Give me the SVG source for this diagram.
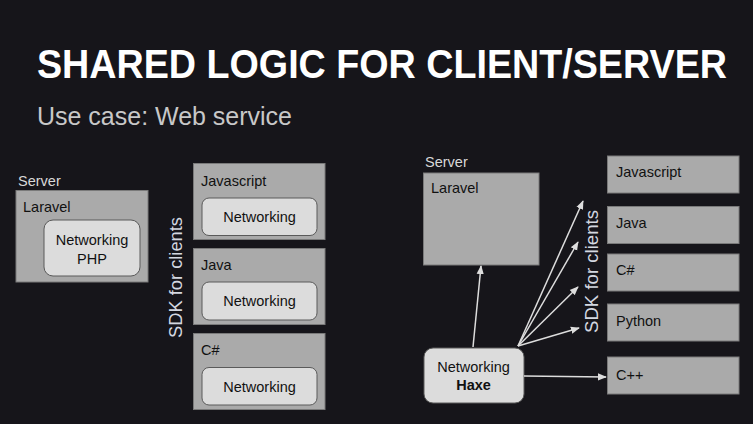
<svg xmlns="http://www.w3.org/2000/svg" width="753" height="424" viewBox="0 0 753 424">
<style>
text{font-family:"Liberation Sans",Arial,sans-serif}
.box{fill:#aaaaaa;stroke:#7a7a7a;stroke-width:1}
.inner{fill:#dcdcdc;stroke:#5a5a5a;stroke-width:1}
.lbl{font-size:14.5px;fill:#111}
.ctr{font-size:14.5px;fill:#111;text-anchor:middle}
.cap{font-size:14.5px;fill:#d8d8d8}
.sdk{font-size:18px;fill:#d4d8e0}
.conn line{stroke:#dddddd;stroke-width:1.5;fill:none}
</style>
<defs>
<marker id="ah" viewBox="0 0 10 10" refX="9" refY="5" markerWidth="6" markerHeight="6" orient="auto" markerUnits="strokeWidth">
<path d="M0,1 L10,5 L0,9 z" fill="#dddddd"/>
</marker>
</defs>
<rect width="753" height="424" fill="#16151a"/>
<text transform="translate(37,78) scale(0.94,1)" x="0" y="0" font-size="40" font-weight="bold" fill="#ffffff" textLength="734" lengthAdjust="spacingAndGlyphs">SHARED LOGIC FOR CLIENT/SERVER</text>
<text x="37" y="125" font-size="25" fill="#c8c8c8" textLength="255" lengthAdjust="spacingAndGlyphs">Use case: Web service</text>

<!-- left diagram -->
<g id="left-server">
<text class="cap" x="18" y="186">Server</text>
<rect class="box" x="16" y="190.5" width="132" height="91.5"/>
<text class="lbl" x="23" y="212">Laravel</text>
</g>
<g id="left-networking-php">
<rect class="inner" x="44" y="220" width="96" height="56" rx="9"/>
<text class="ctr" x="92" y="245">Networking</text>
<text class="ctr" x="92" y="264">PHP</text>
</g>
<g id="left-sdk-label">
<text class="sdk" transform="translate(182,338) rotate(-90)" textLength="121" lengthAdjust="spacingAndGlyphs">SDK for clients</text>
</g>
<g id="left-javascript">
<rect class="box" x="193.5" y="163.5" width="131.5" height="76"/>
<text class="lbl" x="201" y="186">Javascript</text>
<rect class="inner" x="202" y="198" width="115" height="37.5" rx="7"/>
<text class="ctr" x="259.5" y="222">Networking</text>
</g>
<g id="left-java">
<rect class="box" x="193.5" y="248.5" width="131.5" height="76"/>
<text class="lbl" x="201" y="270">Java</text>
<rect class="inner" x="202" y="282" width="115" height="38" rx="7"/>
<text class="ctr" x="259.5" y="306">Networking</text>
</g>
<g id="left-csharp">
<rect class="box" x="193.5" y="333.5" width="131.5" height="76"/>
<text class="lbl" x="201" y="355">C#</text>
<rect class="inner" x="202" y="367.5" width="115" height="37.5" rx="7"/>
<text class="ctr" x="259.5" y="392">Networking</text>
</g>

<!-- right diagram -->
<g id="right-server">
<text class="cap" x="425" y="167">Server</text>
<rect class="box" x="423.5" y="173" width="115.5" height="92"/>
<text class="lbl" x="431" y="193">Laravel</text>
</g>
<g id="right-networking-haxe">
<rect class="inner" x="424" y="348" width="100" height="55" rx="9"/>
<text class="ctr" x="473.5" y="372">Networking</text>
<text class="ctr" x="473.5" y="390" font-weight="bold">Haxe</text>
</g>
<g id="right-sdk-label">
<text class="sdk" transform="translate(598,333) rotate(-90)" textLength="123" lengthAdjust="spacingAndGlyphs">SDK for clients</text>
</g>
<g id="right-javascript">
<rect class="box" x="607.5" y="156" width="131.5" height="37"/>
<text class="lbl" x="616" y="177">Javascript</text>
</g>
<g id="right-java">
<rect class="box" x="607.5" y="206.5" width="131.5" height="37"/>
<text class="lbl" x="616" y="228">Java</text>
</g>
<g id="right-csharp">
<rect class="box" x="607.5" y="254" width="131.5" height="37"/>
<text class="lbl" x="616" y="275">C#</text>
</g>
<g id="right-python">
<rect class="box" x="607.5" y="304" width="131.5" height="37"/>
<text class="lbl" x="616" y="326">Python</text>
</g>
<g id="right-cpp">
<rect class="box" x="607.5" y="357" width="131.5" height="37"/>
<text class="lbl" x="616" y="380">C++</text>
</g>

<g id="connectors" class="conn">
<line x1="473" y1="347" x2="481" y2="266" marker-end="url(#ah)"/>
<line x1="518" y1="346" x2="583" y2="201" marker-end="url(#ah)"/>
<line x1="518" y1="346" x2="578" y2="242" marker-end="url(#ah)"/>
<line x1="518" y1="346" x2="578" y2="287" marker-end="url(#ah)"/>
<line x1="518" y1="346" x2="579" y2="328" marker-end="url(#ah)"/>
<line x1="524" y1="376" x2="606" y2="377" marker-end="url(#ah)"/>
</g>
</svg>
